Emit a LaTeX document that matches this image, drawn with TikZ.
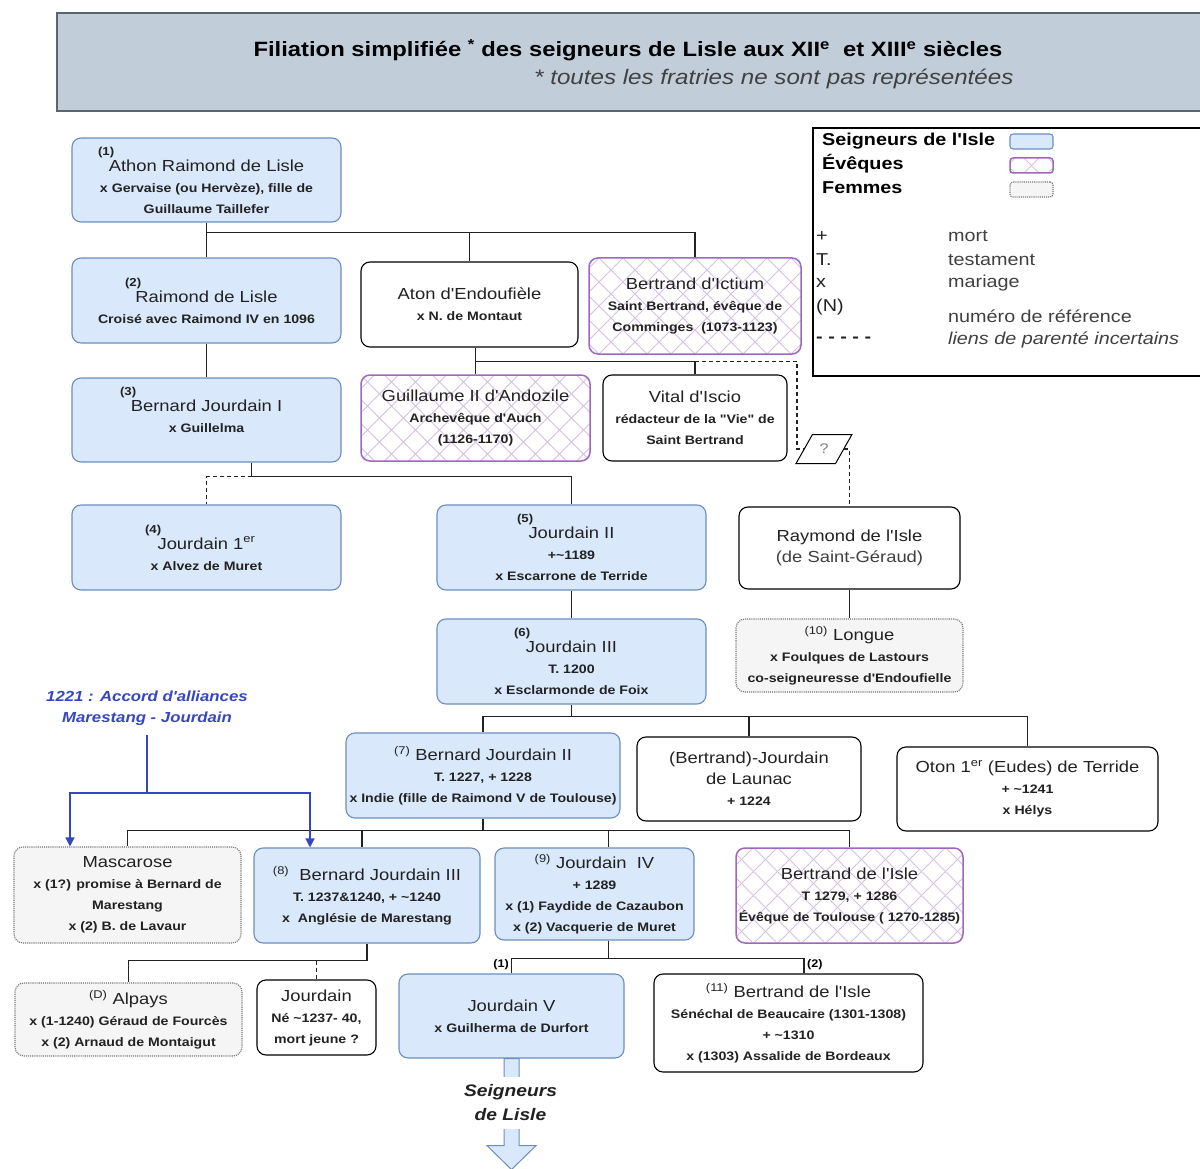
\documentclass[tikz,border=0pt]{standalone}
\usepackage[dvipsnames]{xcolor}
\usepackage{fontspec}
\setmainfont{Liberation Sans}[FakeStretch=1.15]
\newfontfamily\droitfont{Liberation Sans}[FakeStretch=1.15]
\usetikzlibrary{shapes.geometric,arrows.meta}

\definecolor{seigfill}{HTML}{DAE8FC}
\definecolor{seigdraw}{HTML}{6C8EBF}
\definecolor{evqdraw}{HTML}{A066C0}
\definecolor{evqhatch}{HTML}{D6C0E4}
\definecolor{femfill}{HTML}{F5F5F5}
\definecolor{femdraw}{HTML}{777777}
\definecolor{titrefill}{HTML}{C1CEDA}
\definecolor{titredraw}{HTML}{5A6570}
\definecolor{accordcol}{HTML}{3546C0}
\definecolor{texte}{HTML}{222222}

\newcommand{\nomfont}{\fontsize{16}{21}\selectfont\mdseries}
\newcommand{\txtfont}{\fontsize{12.3}{21}\selectfont\bfseries}
\newcommand{\refno}[2]{\makebox[#1][l]{\fontsize{11.5}{12}\selectfont\bfseries #2}}

\begin{document}
\droitfont
\begin{tikzpicture}[x=1pt,y=-1pt,
    box/.style={rounded corners=9pt,line width=1.1pt,align=center,inner sep=0pt,text=texte,font=\txtfont},
    taille/.style 2 args={minimum width=#1pt,minimum height=#2pt},
    seigneur/.style={box,fill=seigfill,draw=seigdraw},
    eveque/.style={box,fill=white,draw=evqdraw,line width=1.5pt,
        path picture={
            \foreach \k in {-12,...,12} {
                \draw[evqhatch,line width=0.9pt] (path picture bounding box.center) ++(\k*24pt-150pt,-150pt) -- ++(300pt,300pt);
                \draw[evqhatch,line width=0.9pt] (path picture bounding box.center) ++(\k*24pt-150pt,150pt) -- ++(300pt,-300pt);
            }}},
    femme/.style={box,fill=femfill,draw=femdraw,densely dotted},
    autre/.style={box,fill=white,draw=black},
    lien/.style={draw=texte,line width=1.4pt},
    incert/.style={lien,dash pattern=on 4pt off 3pt},
    fleche/.style={draw=accordcol,line width=1.4pt},
    quest/.style={trapezium,trapezium left angle=57,trapezium right angle=123,trapezium stretches=true,
        draw=black,fill=white,line width=1pt,inner sep=0pt,text=gray,font=\fontsize{14}{16}\selectfont},
    leg/.style={anchor=west,inner sep=0pt,font=\fontsize{17.2}{20}\selectfont\bfseries},
    legtxt/.style={anchor=west,inner sep=0pt,text=darkgray,font=\fontsize{17.2}{20}\selectfont},
    numero/.style={inner sep=0pt,font=\fontsize{11}{12}\selectfont\bfseries}]

\useasboundingbox (0,0) rectangle (1200,1169);

% titre
\fill[titrefill] (57,13) rectangle (1200,111);
\draw[titredraw,line width=1.8pt] (1200,13) -- (57,13) -- (57,111) -- (1200,111);
\node[font=\fontsize{20.7}{24}\selectfont\bfseries] (titre) at (628,50)
    {Filiation simplifiée \textsuperscript{*} des seigneurs de Lisle aux XII\textsuperscript{e}\ \ et XIII\textsuperscript{e} siècles};
\node[anchor=east,text=darkgray,font=\fontsize{21}{24}\selectfont\itshape] (soustitre) at (1017,79)
    {* toutes les fratries ne sont pas représentées};

% legende
\draw[line width=1.3pt] (1200,128) -- (813,128) -- (813,376) -- (1200,376);
\node[leg] (lseig) at (822,141) {Seigneurs de l'Isle};
\node[leg] (levq) at (822,164) {Évêques};
\node[leg] (lfem) at (822,188) {Femmes};
\node[seigneur,taille={43}{15},rounded corners=3pt] (sseig) at (1031.5,141.5) {};
\node[eveque,taille={43}{15},rounded corners=3pt] (sevq) at (1031.5,165.5) {};
\node[femme,taille={43}{15},rounded corners=3pt] (sfem) at (1031.5,189.5) {};
\node[legtxt,text=texte] (kplus) at (816,237) {+};
\node[legtxt,text=texte] (kt) at (816,260) {T.};
\node[legtxt,text=texte] (kx) at (816,283) {x};
\node[legtxt,text=texte] (kn) at (816,307) {(N)};
\node[legtxt,text=texte,font=\fontsize{17.2}{20}\selectfont\bfseries] (kdash) at (816,340) {- - - - -};
\node[legtxt] (vmort) at (948,236) {mort};
\node[legtxt] (vtest) at (948,260) {testament};
\node[legtxt] (vmar) at (948,283) {mariage};
\node[legtxt] (vnum) at (948,316) {numéro de référence};
\node[legtxt,font=\fontsize{17.2}{20}\selectfont\itshape] (vinc) at (948,340) {liens de parenté incertains};

% personnes
\node[seigneur,taille={269}{84}] (n1) at (206.5,180)
    {\refno{217pt}{(1)}\\[-5pt] {\nomfont Athon Raimond de Lisle}\\ x Gervaise (ou Hervèze), fille de\\ Guillaume Taillefer};
\node[seigneur,taille={269}{85}] (n2) at (206.5,300.5)
    {\refno{163pt}{(2)}\\[-5pt] {\nomfont Raimond de Lisle}\\ Croisé avec Raimond IV en 1096};
\node[seigneur,taille={269}{84}] (n3) at (206.5,420)
    {\refno{173pt}{(3)}\\[-5pt] {\nomfont Bernard Jourdain I}\\ x Guillelma\\ ~};
\node[autre,taille={217}{85}] (aton) at (469.5,304.5)
    {{\nomfont Aton d'Endoufièle}\\ x N. de Montaut};
\node[eveque,taille={212}{96}] (ictium) at (695,306)
    {{\nomfont Bertrand d'Ictium}\\ Saint Bertrand, évêque de\\ Comminges\ \ (1073-1123)};
\node[eveque,taille={229}{86}] (andoz) at (475.5,418)
    {{\nomfont Guillaume II d'Andozile}\\ Archevêque d'Auch\\ (1126-1170)};
\node[autre,taille={184}{86}] (vital) at (695,418)
    {{\nomfont Vital d'Iscio}\\ rédacteur de la "Vie" de\\ Saint Bertrand};
\node[quest,minimum width=56pt,minimum height=29pt] (qm) at (824,449) {?};
\node[seigneur,taille={269}{85}] (n4) at (206.5,547.5)
    {\refno{123pt}{(4)}\\[-5pt] {\nomfont Jourdain 1\textsuperscript{er}}\\ x Alvez de Muret};
\node[seigneur,taille={269}{85}] (n5) at (571.5,547.5)
    {\refno{109pt}{(5)}\\[-5pt] {\nomfont Jourdain II}\\ +\textasciitilde1189\\ x Escarrone de Terride};
\node[seigneur,taille={269}{85}] (n6) at (571.5,661.5)
    {\refno{115pt}{(6)}\\[-5pt] {\nomfont Jourdain III}\\ T. 1200\\ x Esclarmonde de Foix};
\node[autre,taille={221}{82}] (raym) at (849.5,548)
    {{\nomfont Raymond de l'Isle}\\ {\nomfont\color{darkgray}(de Saint-Géraud)}};
\node[femme,taille={227}{73}] (longue) at (849.5,655.5)
    {{\nomfont\textsuperscript{(10)} Longue}\\ x Foulques de Lastours\\ co-seigneuresse d'Endoufielle};
\node[seigneur,taille={274}{85}] (n7) at (483,775.5)
    {{\nomfont\textsuperscript{(7)} Bernard Jourdain II}\\ T. 1227, + 1228\\ x Indie (fille de Raimond V de Toulouse)};
\node[autre,taille={224}{84}] (launac) at (749,779)
    {{\nomfont (Bertrand)-Jourdain}\\ {\nomfont de Launac}\\ + 1224};
\node[autre,taille={261}{84}] (oton) at (1027.5,789)
    {{\nomfont Oton 1\textsuperscript{er} (Eudes) de Terride}\\ + \textasciitilde1241\\ x Hélys};
\node[femme,taille={227}{96}] (masc) at (127.5,895)
    {{\nomfont Mascarose}\\ x (1?) promise à Bernard de\\ Marestang\\ x (2) B. de Lavaur};
\node[seigneur,taille={226}{95}] (n8) at (367,895.5)
    {{\nomfont\textsuperscript{(8)}\ \ Bernard Jourdain III}\\ T. 1237\&1240, + \textasciitilde1240\\ x\ \ Anglésie de Marestang};
\node[seigneur,taille={199}{92}] (n9) at (594.5,894)
    {{\nomfont\textsuperscript{(9)} Jourdain\ \ IV}\\ + 1289\\ x (1) Faydide de Cazaubon\\ x (2) Vacquerie de Muret};
\node[eveque,taille={227}{95}] (bev) at (849.5,895.5)
    {{\nomfont Bertrand de l'Isle}\\ T 1279, + 1286\\ Évêque de Toulouse ( 1270-1285)};
\node[femme,taille={227}{73}] (alpays) at (128.5,1019.5)
    {{\nomfont\textsuperscript{(D)} Alpays}\\ x (1-1240) Géraud de Fourcès\\ x (2) Arnaud de Montaigut};
\node[autre,taille={119}{75}] (jourd) at (316.5,1017.5)
    {{\nomfont Jourdain}\\ Né \textasciitilde1237- 40,\\ mort jeune ?};
\node[seigneur,taille={225}{84}] (jV) at (511.5,1016)
    {{\nomfont Jourdain V}\\ x Guilherma de Durfort};
\node[autre,taille={269}{98}] (b11) at (788.5,1023)
    {{\nomfont\textsuperscript{(11)} Bertrand de l'Isle}\\ Sénéchal de Beaucaire (1301-1308)\\ + \textasciitilde1310\\ x (1303) Assalide de Bordeaux};

% liens de parente
\path (n1.south) ++(0,10) coordinate (b1);
\draw[lien] (n1.south) -- (n2.north);
\draw[lien] (b1) -| (aton.north);
\draw[lien] (b1) -| (ictium.north);
\draw[lien] (n2.south) -- (n3.north);
\draw[lien] (andoz.north |- aton.south) -- (andoz.north);
\path (andoz.north) ++(0,-13) coordinate (b2);
\draw[lien] (b2) -| (vital.north);
\draw[incert] (vital.north) ++(0,-13) -- ++(102,0) |- (qm.west);
\draw[incert] (qm.east) -| (raym.north);
\path ([xshift=45pt]n3.south) ++(0,14) coordinate (b3);
\draw[lien] ([xshift=45pt]n3.south) -- (b3) -| (n5.north);
\draw[incert] (b3) -| (n4.north);
\draw[lien] (n5.south) -- (n6.north);
\draw[lien] (raym.south) -- (longue.north);
\path (n6.south) ++(0,12) coordinate (b6);
\draw[lien] (n6.south) -- (b6) -| (n7.north);
\draw[lien] (b6) -| (launac.north);
\draw[lien] (b6) -| (oton.north);
\path (n7.south) ++(0,12) coordinate (b7);
\draw[lien] (n7.south) -- (b7) -| (masc.north);
\draw[lien] (b7) -| ([xshift=-5pt]n8.north);
\draw[lien] (b7) -| ([xshift=14pt]n9.north);
\draw[lien] (b7) -| (bev.north);
\path (n8.south) ++(0,17) coordinate (b8);
\draw[lien] (n8.south) -- (b8) -| (alpays.north);
\draw[incert] (b8 -| jourd.north) -- (jourd.north);
\path ([xshift=14pt]n9.south) ++(0,18) coordinate (b9);
\draw[lien] ([xshift=14pt]n9.south) -- (b9) -| (jV.north);
\draw[lien] (b9) -| ([xshift=15.5pt]b11.north);
\node[numero,anchor=east] (m1) at (509,965) {(1)};
\node[numero,anchor=west] (m2) at (807,965) {(2)};

% accord 1221
\node[align=center,text=accordcol,font=\fontsize{14.6}{21}\selectfont\bfseries\itshape] (acc) at (147,708)
    {1221 : Accord d'alliances\\ Marestang - Jourdain};
\coordinate (ba) at (147,793);
\draw[fleche] ([yshift=-6pt]acc.south) -- (ba);
\draw[fleche,-{Triangle[width=9pt,length=9pt]}] (ba) -| ([xshift=-57.5pt]masc.north);
\draw[fleche,-{Triangle[width=9pt,length=9pt]}] (ba) -| ([xshift=-57pt]n8.north);

% suite
\draw[seigdraw,fill=seigfill,line width=1pt] (jV.south) ++(-7.5,0) -- ++(15,0) -- ++(0,87) -- ++(17,0)
    -- ++(-24.5,24) -- ++(-24.5,-24) -- ++(17,0) -- cycle;
\node[fill=white,align=center,inner sep=2pt,minimum height=52pt,text=texte,
    font=\fontsize{16.7}{24}\selectfont\bfseries\itshape] (suite) at (510.5,1103) {Seigneurs\\ de Lisle};

\end{tikzpicture}
\end{document}
